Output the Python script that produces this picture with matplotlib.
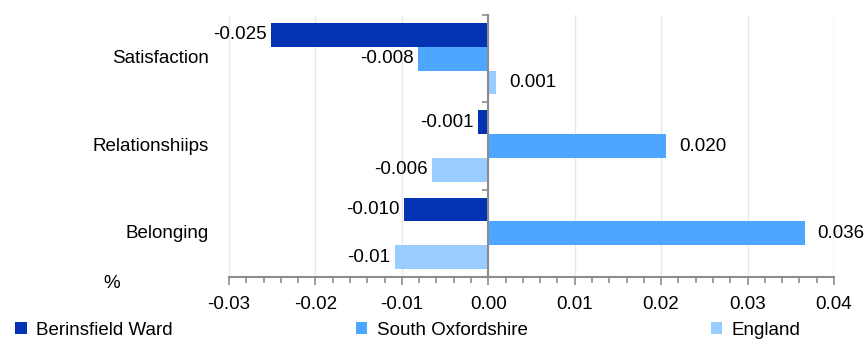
import matplotlib
matplotlib.use("Agg")
import matplotlib.pyplot as plt
from matplotlib.patches import Patch
import numpy as np

plt.rcParams['font.family'] = ['Liberation Sans', 'DejaVu Sans']

categories = ['Satisfaction', 'Relationshiips', 'Belonging']
series = ['Berinsfield Ward', 'South Oxfordshire', 'England']
colors = ['#0333b2', '#4da6ff', '#99ccff']
# values, labels as printed on the chart
values = [
    [-0.0251, -0.0012, -0.0097],   # Berinsfield Ward
    [-0.0081, 0.0206, 0.0366],     # South Oxfordshire
    [0.0009, -0.0065, -0.0108],    # England
]
labels = [
    ['-0.025', '-0.001', '-0.010'],
    ['-0.008', '0.020', '0.036'],
    ['0.001', '-0.006', '-0.01'],
]
xticks = [-0.03, -0.02, -0.01, 0.0, 0.01, 0.02, 0.03, 0.04]

fig = plt.figure(figsize=(8.65, 3.42), dpi=100)
ax = fig.add_axes([0.2647, 0.19, 0.6994, 0.766])

fs = 13.5
grey = '#8c8c8c'
y = np.arange(len(categories))
h = 0.273
for i, (s, c) in enumerate(zip(series, colors)):
    pos = y + (i - 1) * h
    ax.barh(pos, values[i], height=h, color=c, zorder=3, label=s)
    for p, v, t in zip(pos, values[i], labels[i]):
        if v < 0:
            ax.text(v - 0.0005, p, t, ha='right', va='center', fontsize=fs, zorder=4)
        else:
            ax.text(v + 0.0015, p, t, ha='left', va='center', fontsize=fs, zorder=4)

ax.set_xlim(-0.03, 0.04)
ax.set_ylim(len(categories) - 0.5, -0.5)
ax.set_xticks(xticks)
ax.set_xticklabels(['%.2f' % t for t in xticks], fontsize=fs)
ax.set_xticks(np.arange(-0.03, 0.0401, 0.002), minor=True)
ax.tick_params(axis='x', which='both', direction='out', color=grey, width=1.2, pad=8)
ax.tick_params(axis='x', which='major', length=6)
ax.tick_params(axis='x', which='minor', length=4)
ax.grid(axis='x', color='#e8e8e8', linewidth=1, zorder=0)

# y axis sits at zero, ticks on the category boundaries
ax.spines['left'].set_position(('data', 0))
ax.spines['left'].set_color(grey)
ax.spines['left'].set_linewidth(1.5)
ax.spines['left'].set_zorder(5)
ax.set_yticks(np.arange(-0.5, len(categories), 1))
ax.set_yticklabels([])
ax.tick_params(axis='y', direction='out', length=4, color=grey, width=1.2)
for sp in ['top', 'right']:
    ax.spines[sp].set_visible(False)
ax.spines['bottom'].set_color(grey)
ax.spines['bottom'].set_linewidth(1.5)

trans = matplotlib.transforms.blended_transform_factory(ax.transAxes, ax.transData)
for yy, cat in zip(y, categories):
    ax.text(-0.033, yy, cat, transform=trans, ha='right', va='center', fontsize=fs)

fig.text(103 / 865, 1 - 284 / 342, '%', ha='left', va='center', fontsize=fs)

handles = [Patch(facecolor=c, edgecolor='none') for c in colors]
fig.legend(handles, series, loc='lower left', bbox_to_anchor=(0.009, -0.012, 0.925, 0.06),
           mode='expand', ncol=3, frameon=False, fontsize=fs,
           handlelength=0.6, handleheight=0.6, handletextpad=0.5, borderaxespad=0)

fig.savefig('out.png', dpi=100)
